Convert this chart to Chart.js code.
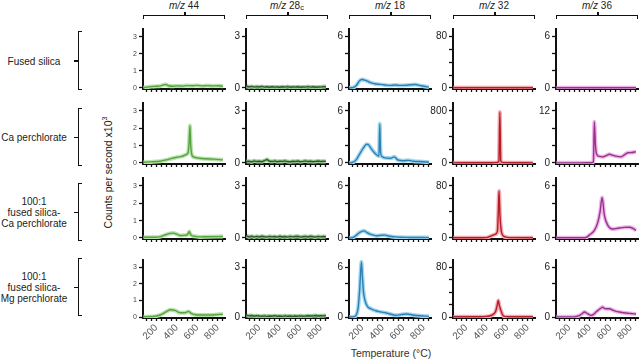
<!DOCTYPE html>
<html><head><meta charset="utf-8">
<script src="https://cdn.jsdelivr.net/npm/chart.js@4.4.1/dist/chart.umd.min.js"></script>
<style>
body{margin:0;background:#fff;}
#wrap{position:relative;width:640px;height:362px;overflow:hidden;font-family:"Liberation Sans",Arial,Helvetica,sans-serif;color:#222;}
#wrap canvas{position:absolute;}
.t{position:absolute;font-size:10px;white-space:nowrap;line-height:11px;}
.rl{position:absolute;left:0;width:68px;text-align:center;font-size:10px;line-height:11px;color:#222;}
.cb{position:absolute;border:1.5px solid #111;border-bottom:none;height:3px;}
.ct{position:absolute;width:1.5px;height:4px;background:#111;}
.rb{position:absolute;border:1.5px solid #111;border-right:none;width:3px;}
.rt{position:absolute;width:4px;height:1.5px;background:#111;}
</style></head><body><div id="wrap"></div>
<script>
// ---------- data ----------
const columnTitles = ['44','28','18','32','36'];
const sampleLabels = [['Fused silica'],['Ca perchlorate'],['100:1','fused silica-','Ca perchlorate'],['100:1','fused silica-','Mg perchlorate']];
const xTickValues = [100,150,200,250,300,350,400,450,500,550,600,650,700,750,800,850];
const xTickLabels = [200,400,600,800];
const yTopLabels = [[3,3,6,80,6],[3,3,6,800,12],[3,3,6,80,6],[3,3,6,80,6]];
const yStepValues = [[1,1,2,20,2],[1,1,2,200,4],[1,1,2,20,2],[1,1,2,20,2]];

// shared temperature grid for the noisy m/z 28c traces
const t28 = [75,100,125,150,175,200,225,250,275,300,325,350,375,400,425,450,475,500,525,550,575,600,625,650,675,700,725,750,775,800,825,850];
const fs28v = [0.1,0.06,0.09,0.05,0.08,0.06,0.09,0.05,0.07,0.04,0.07,0.05,0.06,0.04,0.07,0.05,0.08,0.04,0.06,0.05,0.07,0.04,0.06,0.05,0.08,0.05,0.07,0.04,0.06,0.05,0.08,0.07];
const ca28v = [0.08,0.1,0.06,0.12,0.08,0.1,0.07,0.13,0.2,0.1,0.08,0.12,0.07,0.1,0.09,0.12,0.08,0.06,0.1,0.08,0.11,0.07,0.09,0.12,0.08,0.1,0.07,0.09,0.11,0.08,0.1,0.09];
const cs28v = [0.12,0.06,0.1,0.05,0.09,0.06,0.1,0.07,0.05,0.09,0.06,0.08,0.05,0.1,0.06,0.08,0.05,0.09,0.06,0.08,0.1,0.05,0.07,0.09,0.06,0.1,0.07,0.05,0.09,0.06,0.08,0.07];
const ms28v = [0.1,0.07,0.09,0.05,0.08,0.06,0.05,0.07,0.04,0.06,0.05,0.08,0.05,0.06,0.04,0.07,0.05,0.06,0.04,0.06,0.05,0.07,0.05,0.06,0.08,0.06,0.07,0.09,0.06,0.08,0.07,0.09];

// Fused silica
const fs44 = [[75,0.02],[110,0.05],[150,0.08],[200,0.1],[240,0.12],[270,0.18],[290,0.2],[320,0.13],[360,0.1],[400,0.12],[450,0.11],[500,0.14],[550,0.13],[600,0.15],[650,0.12],[700,0.14],[750,0.12],[800,0.13],[850,0.1]];
const fs18 = [[75,0],[120,0.1],[145,0.35],[170,0.8],[195,1.0],[215,0.95],[250,0.8],[280,0.62],[320,0.5],[370,0.42],[420,0.35],[470,0.3],[520,0.35],[570,0.3],[620,0.32],[680,0.38],[720,0.4],[760,0.3],[800,0.2],[850,0.1]];
const fs32 = [[75,0.3],[300,0.3],[500,0.4],[700,0.3],[850,0.3]];
const fs36 = [[75,0.02],[300,0.02],[500,0.03],[700,0.02],[850,0.02]];
// Ca perchlorate
const ca44 = [[75,0.04],[150,0.06],[236,0.1],[300,0.18],[350,0.26],[400,0.33],[450,0.38],[490,0.48],[510,0.6],[520,1.2],[528,2.15],[536,1.0],[548,0.45],[570,0.33],[620,0.27],[680,0.24],[760,0.22],[850,0.18]];
const ca18 = [[75,0],[100,0.05],[125,0.2],[145,0.45],[170,0.95],[195,1.45],[220,1.9],[243,2.15],[260,2.1],[290,1.6],[325,1.1],[350,0.85],[362,0.8],[370,4.5],[378,1.2],[390,0.75],[440,0.56],[480,0.55],[510,0.7],[525,0.6],[545,0.35],[600,0.25],[650,0.3],[700,0.2],[760,0.16],[850,0.08]];
const ca32 = [[75,2],[300,3],[450,4],[500,6],[518,30],[527,780],[536,30],[560,5],[650,3],[850,2]];
const ca36 = [[75,0.02],[300,0.02],[420,0.05],[435,0.3],[444,9.5],[455,4],[467,2.0],[493,1.5],[526,1.4],[560,1.7],[591,2.0],[620,1.8],[640,1.65],[705,1.4],[740,1.9],[770,2.35],[810,2.4],[850,2.6]];
// 100:1 fused silica - Ca perchlorate
const cs44 = [[75,0.04],[200,0.04],[240,0.08],[270,0.14],[300,0.2],[333,0.26],[366,0.28],[400,0.22],[431,0.14],[470,0.15],[500,0.18],[515,0.3],[522,0.37],[530,0.25],[545,0.14],[580,0.09],[626,0.06],[700,0.07],[850,0.08]];
const cs18 = [[75,0],[110,0.05],[143,0.33],[170,0.6],[191,0.74],[216,0.82],[245,0.62],[275,0.45],[310,0.32],[340,0.25],[380,0.3],[421,0.33],[445,0.25],[470,0.2],[520,0.12],[568,0.08],[650,0.06],[850,0.04]];
const cs32 = [[75,0.3],[350,0.3],[399,0.5],[437,2.7],[480,5.5],[503,10],[512,40],[519,72],[528,35],[546,7],[578,1.6],[620,0.5],[850,0.4]];
const cs36 = [[75,0.02],[330,0.02],[363,0.05],[395,0.33],[444,0.86],[477,1.77],[500,3.0],[520,4.65],[542,2.6],[574,1.48],[623,1.03],[688,1.15],[740,1.22],[786,1.23],[820,1.1],[851,0.86]];
// 100:1 fused silica - Mg perchlorate
const ms44 = [[75,0.02],[170,0.03],[236,0.12],[270,0.22],[301,0.34],[340,0.44],[382,0.4],[431,0.26],[480,0.26],[512,0.34],[545,0.2],[580,0.14],[626,0.12],[724,0.12],[821,0.16],[850,0.16]];
const ms18 = [[75,0],[120,0.05],[142,0.28],[160,1.2],[175,3.5],[191,6.7],[200,5.0],[212,3.0],[240,1.5],[289,0.97],[353,0.69],[435,0.48],[533,0.2],[580,0.3],[630,0.36],[690,0.25],[760,0.16],[850,0.08]];
const ms32 = [[75,0.3],[334,0.4],[400,1],[437,2.1],[486,9],[500,18],[512,26.8],[520,20],[535,11.8],[552,4],[568,1],[620,0.5],[850,0.4]];
const ms36 = [[75,0.02],[240,0.02],[297,0.16],[330,0.45],[346,0.6],[378,0.4],[411,0.2],[440,0.35],[460,0.6],[490,0.9],[509,1.09],[525,1.2],[540,1.05],[558,1.0],[590,1.0],[620,0.85],[655,0.69],[700,0.58],[753,0.48],[800,0.42],[851,0.36]];

const zip28 = v => t28.map((t,i)=>[t,v[i]]);
const grid = [
  [fs44, zip28(fs28v), fs18, fs32, fs36],
  [ca44, zip28(ca28v), ca18, ca32, ca36],
  [cs44, zip28(cs28v), cs18, cs32, cs36],
  [ms44, zip28(ms28v), ms18, ms32, ms36]
];

// ---------- style / layout ----------
const lineColors = ['#55a441','#2c5a2a','#2a82b4','#b51d28','#93358a'];
const haloColors = ['#b9e2aa','#9ccc95','#a5d6ef','#f2a9ae','#f0b3e8'];
const colLeft = [143,246,349,453,556];
const plotW = 82;
const rowTop = [29,103,178,260];
const rowBottom = [89,164,239,318];
const FONT = '"Liberation Sans", Arial, Helvetica, sans-serif';

const wrap = document.getElementById('wrap');
function add(html){ wrap.insertAdjacentHTML('beforeend', html); }

// column titles and brackets
columnTitles.forEach((n,c)=>{
  const cx = colLeft[c] + plotW/2;
  const sub = c===1 ? '<span style="font-size:7.5px;position:relative;top:1px">c</span>' : '';
  add(`<div class="t" style="left:${cx-40}px;width:80px;text-align:center;top:0px"><i>m/z</i> ${n}${sub}</div>`);
  add(`<div class="cb" style="left:${colLeft[c]}px;top:15px;width:${plotW-2}px"></div>`);
  add(`<div class="ct" style="left:${cx}px;top:12px"></div>`);
});
// row labels and brackets
const rbTop = [31,108,183,258], rbBot=[91,167,242,317];
sampleLabels.forEach((lines,r)=>{
  const mid = (rbTop[r]+rbBot[r])/2;
  const h = lines.length*11;
  add(`<div class="rl" style="top:${mid-h/2}px">${lines.join('<br>')}</div>`);
  add(`<div class="rb" style="left:78px;top:${rbTop[r]}px;height:${rbBot[r]-rbTop[r]-3}px"></div>`);
  add(`<div class="rt" style="left:74px;top:${mid-0.75}px"></div>`);
});
add(`<div class="t" style="left:${108-70}px;top:${173-6}px;width:140px;text-align:center;transform:rotate(-90deg);font-size:10.5px">Counts per second x10<sup style="font-size:7px;line-height:0">3</sup></div>`);
add(`<div class="t" style="left:331px;top:348px;width:120px;text-align:center;font-size:10.5px;color:#333">Temperature (°C)</div>`);

// charts
const YW = 26, PT = 6, PR = 3;
for(let r=0;r<4;r++){
  for(let c=0;c<5;c++){
    const bottomRow = r===3;
    const XH = bottomRow ? 30 : 6;
    const w = YW + plotW + PR;
    const h = PT + (rowBottom[r]-rowTop[r]) + XH;
    const cv = document.createElement('canvas');
    cv.width = w; cv.height = h;
    cv.style.left = (colLeft[c]-YW)+'px'; cv.style.top = (rowTop[r]-PT)+'px';
    cv.style.width = w+'px'; cv.style.height = h+'px';
    wrap.appendChild(cv);
    const top = yTopLabels[r][c], step = yStepValues[r][c];
    const yt = []; for(let v=0; v<=top+1e-9; v+=step) yt.push(v);
    const mk = () => grid[r][c].map(p=>({x:p[0],y:p[1]}));
    const noisy = c===1;
    const mode = noisy ? 'default' : 'monotone';
    new Chart(cv, {
      type:'line',
      data:{datasets:[
        {data:mk(), borderColor:lineColors[c], borderWidth:1.4, pointRadius:0, tension:0, cubicInterpolationMode:mode, order:0},
        {data:mk(), borderColor:haloColors[c], borderWidth:4, pointRadius:0, tension:0, cubicInterpolationMode:mode, order:1}
      ]},
      options:{
        responsive:false, animation:false, devicePixelRatio:1, events:[],
        layout:{padding:{top:PT,right:PR,left:0,bottom:0}},
        plugins:{legend:{display:false},tooltip:{enabled:false}},
        scales:{
          x:{type:'linear', min:70, max:870,
            afterBuildTicks: s=>{ s.ticks = xTickValues.map(v=>({value:v})); },
            ticks:{display:bottomRow, autoSkip:false, minRotation:45, maxRotation:45, padding:1,
              font:{size:10, family:FONT}, color:'#555',
              callback: v => xTickLabels.includes(v) ? String(v) : ''},
            grid:{drawOnChartArea:false, drawTicks:true, tickLength:3, tickColor:'#111', tickWidth:1.3},
            border:{color:'#111', width:2},
            afterFit: s=>{ s.height = XH; s.paddingLeft=0; s.paddingRight=0; }
          },
          y:{min:-top*0.02, max:top*1.15,
            afterBuildTicks: s=>{ s.ticks = yt.map(v=>({value:v})); },
            ticks:{autoSkip:false, padding:2,
              font:{size: c===0?7:10, family:FONT}, color: c===0?'#444':'#222',
              callback: v => (c===0 || v===0 || Math.abs(v-top)<1e-9) ? String(v) : ''},
            grid:{drawOnChartArea:false, drawTicks:true, tickLength:4, tickColor:'#111', tickWidth:1.3},
            border:{color:'#111', width:2},
            afterFit: s=>{ s.width = YW; s.paddingTop=0; s.paddingBottom=0; }
          }
        }
      }
    });
  }
}
</script></body></html>
